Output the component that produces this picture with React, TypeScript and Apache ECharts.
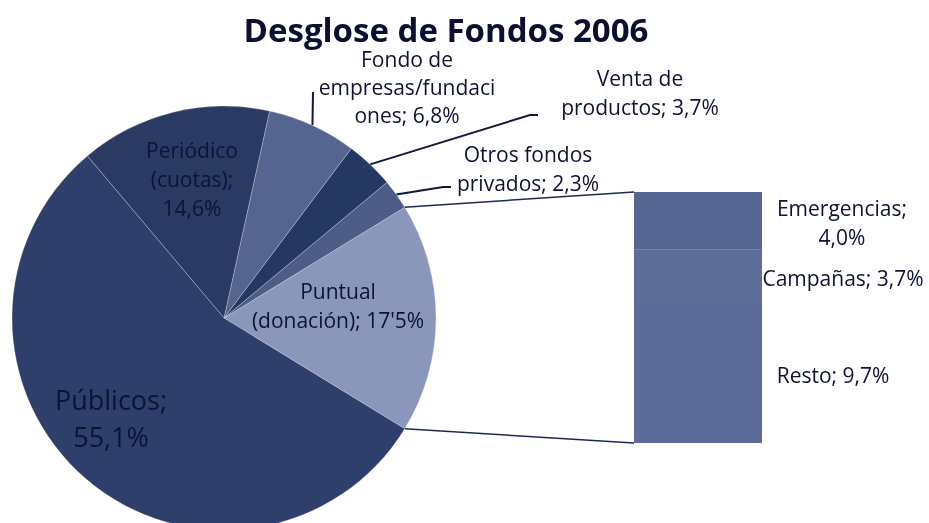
import React, { useEffect, useRef } from "react";
import * as echarts from "echarts";

// Pie slices, counter-clockwise starting with the split slice (Puntual)
const PIE_NAMES = [
  "Puntual\n(donación)",
  "Otros fondos\nprivados",
  "Venta de\nproductos",
  "Fondo de\nempresas/fundaci\nones",
  "Periódico\n(cuotas)",
  "Públicos",
];
const PIE_VALUES = [17.5, 2.3, 3.7, 6.8, 14.6, 55.1];
const PIE_JOIN = ["; ", "; ", "; ", "; ", ";\n", ";\n"];
const PIE_DEC = ["'", ",", ",", ",", ",", ","];
const PIE_COLORS = ["#8b97ba", "#4e5d88", "#253862", "#56658f", "#2a3a62", "#2e3f6b"];

// Bar (breakdown of Puntual), bottom to top
const BAR_NAMES = ["Resto", "Campañas", "Emergencias"];
const BAR_VALUES = [9.7, 3.7, 4.0];
const BAR_JOIN = ["; ", "; ", ";\n"];
const BAR_COLORS = ["#5c6b97", "#5f6e99", "#556490"];

const TITLE = "Desglose de Fondos 2006";

// layout
const CX = 224;
const CY = 318;
const R = 212;
const GL = 634;
const GT = 192;
const GW = 128;
const GH = 251;
const LABEL_POS = [
  [338, 305],
  [528, 168],
  [640, 92],
  [407, 87],
  [192, 179],
  [111, 418],
];
const LEADER: (number[][] | null)[] = [
  null,
  [[443, 187], [451, 187]],
  [[530, 115], [538, 115]],
  [[313, 92], [313, 92]],
  null,
  null,
];
const BAR_LABEL_DX = [71, 81, 80];

const FONT = "'Open Sans', sans-serif";
const TEXT = "#0b1433";

const fmt = (v: number, dec: string) => v.toFixed(1).replace(".", dec);

export default function App() {
  const ref = useRef<HTMLDivElement>(null);
  useEffect(() => {
    const chart = echarts.init(ref.current!, null, { renderer: "svg" });
    const total = PIE_VALUES.reduce((a, b) => a + b, 0);
    const halfDeg = (PIE_VALUES[0] / total) * 180;
    const half = (halfDeg * Math.PI) / 180;
    const p1 = [CX + R * Math.cos(half), CY - R * Math.sin(half)];
    const p2 = [CX + R * Math.cos(half), CY + R * Math.sin(half)];
    const barTotal = BAR_VALUES.reduce((a, b) => a + b, 0);

    const option: any = {
      animation: false,
      title: {
        text: TITLE,
        left: 446,
        textAlign: "center",
        top: 16,
        padding: 0,
        textStyle: { fontFamily: FONT, fontWeight: "bold", fontSize: 33, lineHeight: 26, color: "#0a1030" },
      },
      grid: { left: GL, top: GT, width: GW, height: GH },
      xAxis: { type: "category", data: ["Puntual"], show: false },
      yAxis: { type: "value", min: 0, max: barTotal, show: false },
      series: [
        {
          type: "pie",
          center: [CX, CY],
          radius: R,
          startAngle: -halfDeg,
          clockwise: false,
          avoidLabelOverlap: false,
          emphasis: { disabled: true },
          itemStyle: { borderColor: "rgba(255,255,255,0.25)", borderWidth: 1 },
          label: {
            show: true,
            position: "outside",
            fontFamily: FONT,
            fontSize: 21,
            lineHeight: 29,
            color: TEXT,
            align: "center",
            formatter: (p: any) =>
              PIE_NAMES[p.dataIndex] + PIE_JOIN[p.dataIndex] + fmt(p.value, PIE_DEC[p.dataIndex]) + "%",
          },
          labelLine: { lineStyle: { color: "#0f1838", width: 2 }, length: 10, length2: 10 },
          labelLayout: (params: any) => {
            const i = params.dataIndex;
            const res: any = { x: LABEL_POS[i][0], y: LABEL_POS[i][1], align: "center", verticalAlign: "middle" };
            const lead = LEADER[i];
            if (lead) {
              const s = params.labelLinePoints ? params.labelLinePoints[0] : [CX, CY];
              res.labelLinePoints = [s, lead[0], lead[1]];
            }
            return res;
          },
          data: PIE_VALUES.map((v, i) => ({
            value: v,
            name: PIE_NAMES[i],
            itemStyle: { color: PIE_COLORS[i] },
            labelLine: { show: LEADER[i] != null },
            label:
              i === 5
                ? { fontSize: 27, lineHeight: 37 }
                : i === 3
                ? { lineHeight: 28 }
                : undefined,
          })),
        },
        ...BAR_VALUES.map((v, i) => ({
          type: "bar",
          stack: "puntual",
          name: BAR_NAMES[i],
          data: [v],
          barWidth: "100%",
          emphasis: { disabled: true },
          itemStyle: { color: BAR_COLORS[i] },
          label: {
            show: true,
            position: "right",
            fontFamily: FONT,
            fontSize: 21,
            lineHeight: 29,
            color: TEXT,
            align: "center",
            formatter: () => BAR_NAMES[i] + BAR_JOIN[i] + fmt(v, ",") + "%",
          },
          labelLayout: (params: any) => ({
            x: params.rect.x + params.rect.width + BAR_LABEL_DX[i],
            y: params.rect.y + params.rect.height / 2 + 2,
            align: "center",
            verticalAlign: "middle",
          }),
        })),
      ],
      graphic: [
        {
          type: "line",
          z: 10,
          shape: { x1: p1[0], y1: p1[1], x2: GL, y2: GT },
          style: { stroke: "#1c2a52", lineWidth: 1.5 },
        },
        {
          type: "line",
          z: 10,
          shape: { x1: p2[0], y1: p2[1], x2: GL, y2: GT + GH },
          style: { stroke: "#1c2a52", lineWidth: 1.5 },
        },
      ],
    };
    chart.setOption(option);
    return () => chart.dispose();
  }, []);
  return <div ref={ref} style={{ position: "fixed", left: 0, top: 0, width: 929, height: 523 }} />;
}
